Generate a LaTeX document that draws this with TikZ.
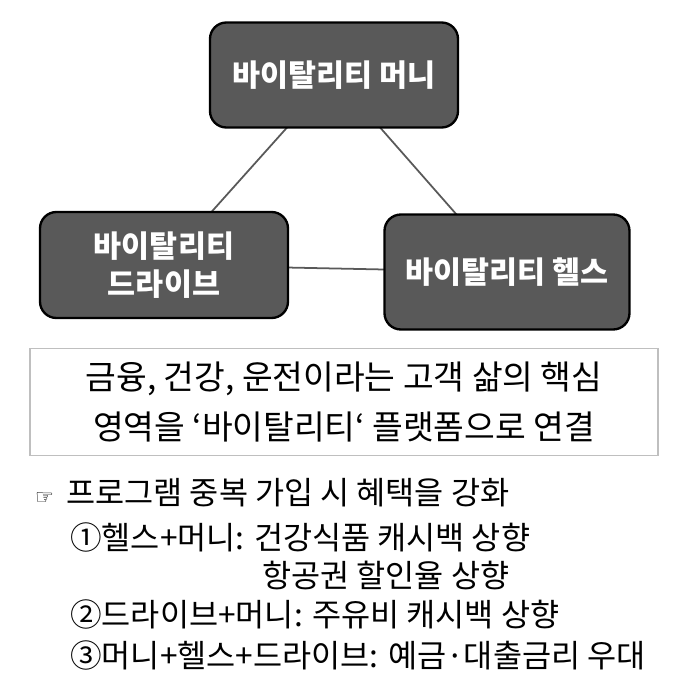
\documentclass[tikz,border=0pt]{standalone}
\usepackage{fontspec}
\setmainfont{Noto Sans CJK KR}
\newfontfamily\symfont{DejaVu Sans}
\definecolor{boxgray}{HTML}{595959}
\tikzset{
  areabox/.style={draw=black, line width=2pt, fill=boxgray, rounded corners=14pt,
    text=white, align=center, font=\fontsize{26}{32}\selectfont\bfseries},
  listline/.style={anchor=west, inner sep=0pt, font=\fontsize{27}{32}\selectfont}
}
\begin{document}
\begin{tikzpicture}[x=0.03cm,y=-0.03cm]
    \useasboundingbox (0,0) rectangle (691,691);

    \coordinate (topC) at (334,75);
    \coordinate (leftC) at (164,265);
    \coordinate (rightC) at (507,272);

    \draw[line width=1.5pt, boxgray] (topC) -- (leftC) -- (rightC) -- cycle;

    \node[areabox, minimum width=248*0.03cm, minimum height=105*0.03cm] (money) at (topC) {바이탈리티 머니};
    \node[areabox, minimum width=248*0.03cm, minimum height=106*0.03cm] (drive) at (leftC) {바이탈리티\\드라이브};
    \node[areabox, minimum width=245*0.03cm, minimum height=115*0.03cm] (health) at (rightC) {바이탈리티 헬스};

    \node[draw=black!25, line width=1pt, minimum width=628*0.03cm, minimum height=107*0.03cm,
      align=center, font=\fontsize{28.5}{43}\selectfont] (summary) at (344,402)
      {금융, 건강, 운전이라는 고객 삶의 핵심\\영역을 ‘바이탈리티‘ 플랫폼으로 연결};

    \node[listline] (head) at (35,493) {{\symfont\fontsize{18}{20}\selectfont\bfseries ☞}\, 프로그램 중복 가입 시 혜택을 강화};
    \node[listline] (itemA) at (70,537) {①헬스+머니: 건강식품 캐시백 상향};
    \node[listline] (itemAb) at (262,575) {항공권 할인율 상향};
    \node[listline] (itemB) at (70,614) {②드라이브+머니: 주유비 캐시백 상향};
    \node[listline] (itemC) at (70,655) {③머니+헬스+드라이브: 예금·대출금리 우대};
\end{tikzpicture}
\end{document}
